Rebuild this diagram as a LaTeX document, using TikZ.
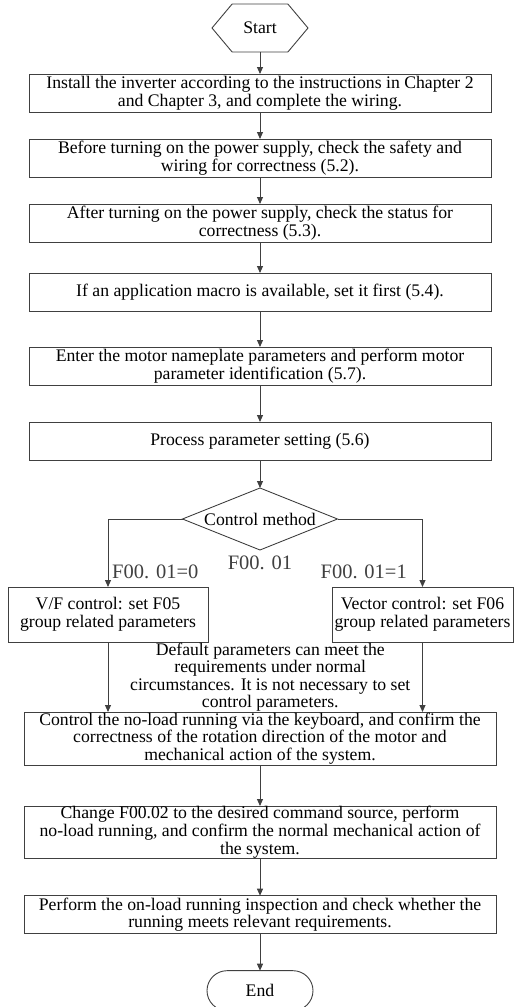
\documentclass[tikz,border=0pt]{standalone}
\usepackage{fontspec}
\setmainfont{Liberation Serif}
\usepackage{tikz}
\usetikzlibrary{positioning,arrows.meta,shapes.geometric,shapes.misc,shapes.symbols,calc}

\begin{document}
\begin{tikzpicture}[
    node distance=27pt,
    stepbox/.style={rectangle, draw=black!75, line width=0.9pt, outer sep=0pt, minimum width=462pt, minimum height=38pt, align=center, inner xsep=2pt, inner ysep=0.5pt, font=\fontsize{17.7}{17.7}\selectfont},
    widebox/.style={stepbox, minimum width=472pt},
    sidebox/.style={stepbox, minimum height=55pt},
    startbox/.style={signal, signal to=east and west, signal pointer angle=100, draw=black!75, line width=0.9pt, outer sep=0pt, minimum width=96pt, minimum height=48pt, inner sep=0pt, font=\fontsize{17.7}{17.7}\selectfont},
    endbox/.style={rounded rectangle, draw=black!75, line width=0.9pt, outer sep=0pt, minimum width=106pt, minimum height=40pt, inner sep=0pt, font=\fontsize{17.7}{17.7}\selectfont},
    choice/.style={diamond, aspect=2.5, draw=black!75, line width=0.9pt, outer sep=0pt, minimum width=155pt, minimum height=62pt, inner sep=0pt, font=\fontsize{17.7}{17.7}\selectfont},
    note/.style={align=center, inner sep=0pt, font=\fontsize{17.7}{17.2}\selectfont},
    cond/.style={inner sep=1pt, text=black!75, font=\fontsize{20.5}{20.5}\selectfont},
    arrow/.style={-{Triangle[length=7pt, width=6pt]}, line width=0.9pt, draw=black!75},
]
\useasboundingbox (0,0) rectangle (514pt,-1007pt);

\node[startbox] (S) at (260pt,-28pt) {Start};
\node[stepbox, below=22pt of S] (B1) {Install the inverter according to the instructions in Chapter 2\\ and Chapter 3, and complete the wiring.};
\node[stepbox, below=of B1] (B2) {Before turning on the power supply, check the safety and\\ wiring for correctness (5.2).};
\node[stepbox, below=of B2] (B3) {After turning on the power supply, check the status for\\ correctness (5.3).};
\node[stepbox, below=31pt of B3] (B4) {If an application macro is available, set it first (5.4).};
\node[stepbox, below=36pt of B4] (B5) {Enter the motor nameplate parameters and perform motor\\ parameter identification (5.7).};
\node[stepbox, below=37pt of B5] (B6) {Process parameter setting (5.6)};
\node[choice, below=28pt of B6] (D) {Control method};
\node[cond, below=5pt of D] (C) {F00. 01};

\node[sidebox, minimum width=200pt, below=37pt of D, xshift=-152pt] (VF) {V/F control: set F05\\ group related parameters};
\node[sidebox, minimum width=181pt, below=37pt of D, xshift=162.5pt] (VC) {Vector control: set F06\\ group related parameters};
\node[cond, above right=7pt and 3pt of VF.north] (C0) {F00. 01=0};
\node[cond, above left=7pt and 14.5pt of VC.north] (C1) {F00. 01=1};

\coordinate (split) at ($(VF.south)!0.5!(VC.south)$);
\node[note, below=1pt of split, xshift=5pt] (N) {Default parameters can meet the\\ requirements under normal\\ circumstances. It is not necessary to set\\ control parameters.};

\coordinate (gap) at (D |- VF.south);
\node[widebox, minimum height=53pt, below=70pt of gap] (B7) {Control the no-load running via the keyboard, and confirm the\\ correctness of the rotation direction of the motor and\\ mechanical action of the system.};
\node[widebox, minimum height=51pt, below=41pt of B7] (B8) {Change F00.02 to the desired command source, perform\\ no-load running, and confirm the normal mechanical action of\\ the system.};
\node[widebox, below=37pt of B8] (B9) {Perform the on-load running inspection and check whether the\\ running meets relevant requirements.};
\node[endbox, below=37pt of B9] (E) {End};

\draw[arrow] (S) -- (B1);
\draw[arrow] (B1) -- (B2);
\draw[arrow] (B2) -- (B3);
\draw[arrow] (B3) -- (B4);
\draw[arrow] (B4) -- (B5);
\draw[arrow] (B5) -- (B6);
\draw[arrow] (B6) -- (D);
\draw[arrow] (D.west) -| (VF.north);
\draw[arrow] (D.east) -| (VC.north);
\draw[arrow] (VF.south) -- (VF.south |- B7.north);
\draw[arrow] (VC.south) -- (VC.south |- B7.north);
\draw[arrow] (B7) -- (B8);
\draw[arrow] (B8) -- (B9);
\draw[arrow] (B9) -- (E);

\end{tikzpicture}
\end{document}
